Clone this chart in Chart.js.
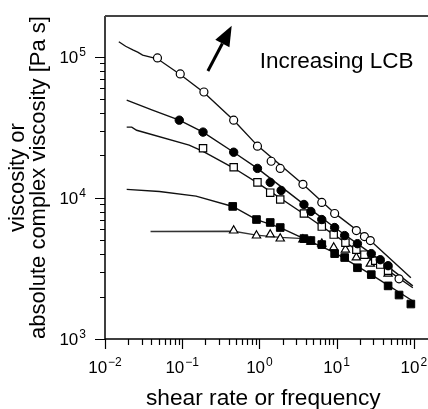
<!DOCTYPE html>
<html>
<head>
<meta charset="utf-8">
<script src="https://cdn.jsdelivr.net/npm/chart.js@4.4.0/dist/chart.umd.min.js"></script>
<style>
html, body { margin: 0; padding: 0; background: #fff; }
</style>
</head>
<body>
<canvas id="chart" width="428" height="409"></canvas>
<script>
// --- data (x: shear rate / frequency, y: viscosity Pa s) ---
// open circles
const circX = [0.0478, 0.0943, 0.191, 0.464, 0.943, 1.42, 1.86, 3.66, 6.42, 9.42, 18.0, 22.9, 27.3, 64.3];
const circY = [98400, 75700, 56400, 35600, 23300, 18200, 16200, 12500, 9290, 7760, 5870, 5320, 4990, 2670];
// filled circles
const dotX = [0.0916, 0.186, 0.464, 0.943, 1.38, 1.91, 3.77, 4.64, 6.42, 9.42, 12.7, 18.6, 28.1, 36.7, 46.4];
const dotY = [35600, 29300, 21100, 16200, 12900, 11300, 8990, 8020, 7030, 6170, 5410, 4740, 4030, 3650, 3310];
// open squares
const sqX = [0.186, 0.464, 0.943, 1.38, 1.86, 3.77, 6.42, 9.16, 13.0, 18.0, 22.9, 31.6, 36.7, 46.4];
const sqY = [22500, 16500, 12900, 10900, 9750, 7760, 6270, 5500, 4820, 4300, 3960, 3590, 3370, 3050];
// filled squares
const fsqX = [0.451, 0.916, 1.38, 1.86, 3.77, 4.64, 6.42, 9.42, 12.7, 18.6, 28.1, 46.4, 64.3, 91.5];
const fsqY = [8710, 7030, 6700, 6170, 5150, 4990, 4670, 4030, 3780, 3200, 2860, 2380, 2050, 1770];
// open triangles
const triX = [0.464, 0.916, 1.38, 1.86, 3.66, 4.64, 6.42, 9.16, 13.0, 18.0, 27.3, 46.4];
const triY = [5870, 5410, 5500, 5150, 5070, 4900, 4740, 4450, 4300, 3780, 3420, 2900];

// solid curves (steady shear viscosity)
const lineAX = [0.0151, 0.0185, 0.0229, 0.0265, 0.0307, 0.0478, 0.0943, 0.191, 0.464, 0.943, 3.66, 9.42, 27.3, 91.5];
const lineAY = [128000, 119000, 112000, 108000, 103000, 97000, 75000, 56000, 35500, 23500, 12500, 7800, 5000, 2720];
const lineBX = [0.0191, 0.0412, 0.0916, 0.186, 0.464, 0.943, 3.77, 9.42, 28.1, 97];
const lineBY = [49400, 42000, 35600, 29300, 21100, 16200, 9000, 6170, 4030, 2380];
const lineCX = [0.0191, 0.0222, 0.0257, 0.123, 0.186, 0.464, 0.943, 3.77, 9.16, 18.0, 46.4, 97];
const lineCY = [31800, 31800, 30200, 23700, 21400, 16300, 12800, 7700, 5500, 4300, 3050, 2310];
const lineDX = [0.0191, 0.0507, 0.151, 0.451, 0.916, 1.86, 3.77, 9.42, 28.1, 97];
const lineDY = [11500, 11100, 10300, 8700, 7030, 6170, 5150, 4100, 2860, 1860];
const lineEX = [0.0389, 0.464, 0.916, 1.86, 3.77];
const lineEY = [5780, 5800, 5450, 5250, 5150];

// ticks
const xMajor = [0.01, 0.1, 1, 10, 100];
const xMajorExp = ['\u22122', '\u22121', '0', '1', '2'];
const yMajor = [1000, 10000, 100000];
const yMajorExp = ['3', '4', '5'];

const xTitle = 'shear rate or frequency';
const yTitle = ['viscosity or', 'absolute complex viscosity [Pa s]'];
const noteText = 'Increasing LCB';

const FONT = '"Liberation Sans", Arial, Helvetica, sans-serif';

function pts(xs, ys) {
    return xs.map((v, i) => ({ x: v, y: ys[i] }));
}

function minorTicks(fromExp, toExp, maxVal) {
    const out = [];
    for (let e = fromExp; e < toExp; e++) {
        for (let m = 2; m <= 9; m++) {
            const v = m * Math.pow(10, e);
            if (v < maxVal) out.push(v);
        }
    }
    return out;
}

const curve = { showLine: true, borderColor: '#111', borderWidth: 1.4, pointRadius: 0, fill: false, tension: 0 };

// draws "10" with a raised exponent
function drawPow(ctx, exp, cx, baseY, align) {
    const base = '17px ' + FONT;
    const sup = '12px ' + FONT;
    ctx.font = base;
    const wb = ctx.measureText('10').width;
    ctx.font = sup;
    const we = ctx.measureText(exp).width;
    const total = wb + we + 1;
    const left = align === 'right' ? cx - total : cx - total / 2;
    ctx.textAlign = 'left';
    ctx.textBaseline = 'alphabetic';
    ctx.font = base;
    ctx.fillText('10', left, baseY);
    ctx.font = sup;
    ctx.fillText(exp, left + wb + 1, baseY - 7);
}

const axesPlugin = {
    id: 'axesPlugin',
    afterDraw(chart) {
        const { ctx, chartArea: a, scales: { x, y } } = chart;
        ctx.save();
        ctx.fillStyle = '#000';

        // frame: left, bottom, top
        ctx.strokeStyle = '#000';
        ctx.lineWidth = 1.5;
        ctx.beginPath();
        ctx.moveTo(a.left, a.top);
        ctx.lineTo(a.left, a.bottom);
        ctx.lineTo(chart.width, a.bottom);
        ctx.stroke();
        ctx.strokeStyle = '#444';
        ctx.lineWidth = 2;
        ctx.beginPath();
        ctx.moveTo(a.left, a.top);
        ctx.lineTo(chart.width, a.top);
        ctx.stroke();

        // ticks
        ctx.strokeStyle = '#000';
        ctx.lineWidth = 1.2;
        ctx.beginPath();
        xMajor.forEach(v => {
            const px = Math.round(x.getPixelForValue(v)) + 0.5;
            ctx.moveTo(px, a.bottom); ctx.lineTo(px, a.bottom + 10);
        });
        minorTicks(-2, 2, 126).forEach(v => {
            const px = Math.round(x.getPixelForValue(v)) + 0.5;
            ctx.moveTo(px, a.bottom); ctx.lineTo(px, a.bottom + 6);
        });
        yMajor.forEach(v => {
            const py = Math.round(y.getPixelForValue(v)) + 0.5;
            ctx.moveTo(a.left, py); ctx.lineTo(a.left - 10, py);
        });
        minorTicks(3, 5, 195000).forEach(v => {
            const py = Math.round(y.getPixelForValue(v)) + 0.5;
            ctx.moveTo(a.left, py); ctx.lineTo(a.left - 5, py);
        });
        ctx.stroke();

        // tick labels
        xMajor.forEach((v, i) => drawPow(ctx, xMajorExp[i], x.getPixelForValue(v), a.bottom + 34, 'center'));
        yMajor.forEach((v, i) => drawPow(ctx, yMajorExp[i], a.left - 19, y.getPixelForValue(v) + 6, 'right'));

        // axis titles
        ctx.font = '22.7px ' + FONT;
        ctx.textAlign = 'center';
        ctx.textBaseline = 'alphabetic';
        ctx.fillText(xTitle, (a.left + a.right) / 2, chart.height - 4);
        ctx.font = '22px ' + FONT;
        ctx.save();
        ctx.translate(0, (a.top + a.bottom) / 2);
        ctx.rotate(-Math.PI / 2);
        ctx.fillText(yTitle[0], 0, 24);
        ctx.fillText(yTitle[1], 0, 45);
        ctx.restore();

        // annotation arrow + text (anchored in data space)
        const tx = x.getPixelForValue(0.215), ty = y.getPixelForValue(79500);
        const hx = x.getPixelForValue(0.4375), hy = y.getPixelForValue(166000);
        const ang = Math.atan2(hy - ty, hx - tx);
        const headLen = 20, headW = 8;
        const bx = hx - headLen * Math.cos(ang), by = hy - headLen * Math.sin(ang);
        ctx.lineWidth = 3;
        ctx.beginPath();
        ctx.moveTo(tx, ty); ctx.lineTo(bx, by);
        ctx.stroke();
        ctx.beginPath();
        ctx.moveTo(hx, hy);
        ctx.lineTo(bx + headW * Math.sin(ang), by - headW * Math.cos(ang));
        ctx.lineTo(bx - headW * Math.sin(ang), by + headW * Math.cos(ang));
        ctx.closePath();
        ctx.fill();

        ctx.font = '22.5px ' + FONT;
        ctx.textAlign = 'left';
        ctx.fillText(noteText, x.getPixelForValue(1.01), y.getPixelForValue(83600));
        ctx.restore();
    }
};

const openMark = { showLine: false, borderColor: '#000', borderWidth: 1.2, backgroundColor: '#fff' };
const fillMark = { showLine: false, borderColor: '#000', borderWidth: 1, backgroundColor: '#000' };

new Chart(document.getElementById('chart'), {
    type: 'scatter',
    data: {
        datasets: [
            { ...openMark, data: pts(circX, circY), pointStyle: 'circle', pointRadius: 4 },
            { ...fillMark, data: pts(dotX, dotY), pointStyle: 'circle', pointRadius: 4.2 },
            { ...openMark, data: pts(sqX, sqY), pointStyle: 'rect', pointRadius: 5.2 },
            { ...fillMark, data: pts(fsqX, fsqY), pointStyle: 'rect', pointRadius: 5.4 },
            { ...openMark, data: pts(triX, triY), pointStyle: 'triangle', pointRadius: 4.8 },
            { ...curve, data: pts(lineAX, lineAY) },
            { ...curve, data: pts(lineBX, lineBY) },
            { ...curve, data: pts(lineCX, lineCY) },
            { ...curve, data: pts(lineDX, lineDY) },
            { ...curve, borderColor: '#333', data: pts(lineEX, lineEY) }
        ]
    },
    options: {
        responsive: false,
        animation: false,
        layout: { padding: { left: 105, right: 3, top: 16, bottom: 70 } },
        plugins: { legend: { display: false }, tooltip: { enabled: false } },
        elements: { point: { hoverRadius: 0 } },
        scales: {
            x: { type: 'logarithmic', min: 0.01, max: 126, display: false },
            y: { type: 'logarithmic', min: 1000, max: 195000, display: false }
        }
    },
    plugins: [axesPlugin]
});
</script>
</body>
</html>
